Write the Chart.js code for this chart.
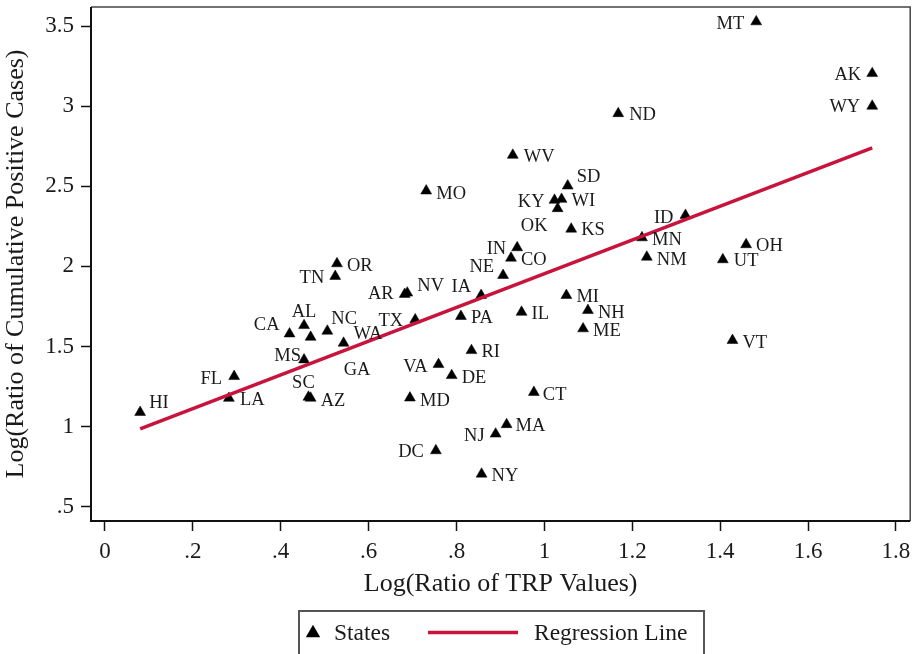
<!DOCTYPE html>
<html>
<head>
<meta charset="utf-8">
<script src="https://cdn.jsdelivr.net/npm/chart.js@4.4.0/dist/chart.umd.min.js"></script>
<style>
  html, body { margin: 0; padding: 0; background: #fff; }
</style>
</head>
<body>
<canvas id="chart" width="917" height="654"></canvas>
<script>
// state abbreviations with log ratios (x: TRP values, y: cumulative positive cases)
const states = ['HI','FL','LA','CA','AL','GA','NC','WA','MS','SC','AZ','TN','OR','AR','NV','TX','IA','MO',
  'VA','DE','MD','DC','RI','PA','NE','IN','CO','KY','WI','OK','SD','WV','KS','IL','MI','NH','ME','NJ','MA',
  'NY','CT','ND','MT','AK','WY','ID','MN','NM','UT','OH','VT'];
const trpRatio = [0.080, 0.294, 0.282, 0.420, 0.453, 0.468, 0.506, 0.543, 0.453, 0.463, 0.468, 0.524, 0.528, 0.682, 0.688, 0.706, 0.856, 0.731,
  0.759, 0.789, 0.694, 0.753, 0.834, 0.810, 0.906, 0.938, 0.924, 1.023, 1.039, 1.030, 1.053, 0.928, 1.061, 0.948, 1.050, 1.099, 1.088, 0.889, 0.914,
  0.857, 0.976, 1.168, 1.482, 1.746, 1.746, 1.321, 1.222, 1.233, 1.406, 1.459, 1.428];
const caseRatio = [1.089, 1.313, 1.177, 1.579, 1.631, 1.558, 1.596, 1.521, 1.417, 1.184, 1.178, 1.938, 2.017, 1.826, 1.834, 1.667, 1.819, 2.471,
  1.388, 1.319, 1.179, 0.850, 1.475, 1.688, 1.944, 2.117, 2.052, 2.413, 2.419, 2.361, 2.502, 2.694, 2.233, 1.714, 1.819, 1.725, 1.611, 0.954, 1.013,
  0.704, 1.214, 2.954, 3.527, 3.204, 3.000, 2.319, 2.179, 2.058, 2.042, 2.136, 1.538];

// fitted line end points
const fitX = [0.080, 1.746];
const fitY = [0.986, 2.739];

const xTicks = [0, 0.2, 0.4, 0.6, 0.8, 1, 1.2, 1.4, 1.6, 1.8];
const xTickLabels = ['0', '.2', '.4', '.6', '.8', '1', '1.2', '1.4', '1.6', '1.8'];
const yTicks = [0.5, 1, 1.5, 2, 2.5, 3, 3.5];
const yTickLabels = ['.5', '1', '1.5', '2', '2.5', '3', '3.5'];

// where each marker label sits: [text align, dx, dy] in pixels from the marker
const labelPlace = {
  HI: ['left', 9, -9],  FL: ['right', -12, 3], LA: ['left', 11, 2],  CA: ['right', -10, -9],
  AL: ['center', 0, -13], GA: ['left', 33, 33], NC: ['left', 4, -12], WA: ['left', 10, -9],
  MS: ['right', -3, -4], SC: ['center', -5, -14], AZ: ['left', 10, 3], TN: ['right', -11, 2],
  OR: ['left', 10, 3], AR: ['right', -11, 0], NV: ['left', 10, -7], TX: ['right', -12, 1],
  IA: ['right', -10, -8], MO: ['left', 10, 3], VA: ['right', -11, 3], DE: ['left', 10, 3],
  MD: ['left', 10, 3], DC: ['right', -12, 2], RI: ['left', 10, 2], PA: ['left', 10, 2],
  NE: ['right', -9, -8], IN: ['right', -11, 2], CO: ['left', 10, 2], KY: ['right', -10, 2],
  WI: ['left', 10, 2], OK: ['right', -10, 18], SD: ['left', 9, -9], WV: ['left', 11, 2],
  KS: ['left', 10, 1], IL: ['left', 10, 2], MI: ['left', 10, 2], NH: ['left', 10, 3],
  ME: ['left', 10, 2], NJ: ['right', -11, 2], MA: ['left', 9, 2], NY: ['left', 10, 2],
  CT: ['left', 9, 3], ND: ['left', 11, 2], MT: ['right', -12, 2], AK: ['right', -11, 2],
  WY: ['right', -12, 1], ID: ['right', -12, 3], MN: ['left', 10, 2], NM: ['left', 10, 3],
  UT: ['left', 11, 2], OH: ['left', 10, 2], VT: ['left', 10, 3]
};

const SERIF = '"Liberation Serif", "Times New Roman", serif';
const RED = '#c8143c';

const points = states.map((s, i) => ({ x: trpRatio[i], y: caseRatio[i], state: s }));
const fitLine = fitX.map((x, i) => ({ x: x, y: fitY[i] }));

// plot frame, state labels and the boxed legend underneath
const decorations = {
  id: 'decorations',
  afterDatasetsDraw(chart) {
    const ctx = chart.ctx;
    const meta = chart.getDatasetMeta(1);
    ctx.save();
    ctx.font = '18.5px ' + SERIF;
    ctx.fillStyle = '#1a1a1a';
    ctx.textBaseline = 'middle';
    meta.data.forEach((el, i) => {
      const p = labelPlace[states[i]];
      ctx.textAlign = p[0];
      ctx.fillText(states[i], el.x + p[1], el.y + p[2]);
    });
    ctx.restore();
  },
  afterDraw(chart) {
    const ctx = chart.ctx;
    const a = chart.chartArea;
    ctx.save();
    // top / right edges of the plot region
    ctx.strokeStyle = '#444';
    ctx.lineWidth = 1.5;
    ctx.beginPath();
    ctx.moveTo(a.left, a.top);
    ctx.lineTo(a.right, a.top);
    ctx.lineTo(a.right, a.bottom);
    ctx.stroke();
    // axis lines
    ctx.strokeStyle = '#111';
    ctx.lineWidth = 2;
    ctx.beginPath();
    ctx.moveTo(a.left, a.top);
    ctx.lineTo(a.left, a.bottom);
    ctx.lineTo(a.right, a.bottom);
    ctx.stroke();

    // legend box
    ctx.strokeStyle = '#555';
    ctx.lineWidth = 2;
    ctx.strokeRect(299, 611, 405, 60);
    ctx.fillStyle = '#000';
    ctx.strokeStyle = '#000';
    Chart.helpers.drawPoint(ctx, {
      pointStyle: 'triangle', radius: 6.3, borderWidth: 0.5
    }, 313, 633);
    ctx.font = '23.5px ' + SERIF;
    ctx.fillStyle = '#1a1a1a';
    ctx.textAlign = 'left';
    ctx.textBaseline = 'middle';
    ctx.fillText('States', 334, 634);
    ctx.strokeStyle = RED;
    ctx.lineWidth = 3.5;
    ctx.beginPath();
    ctx.moveTo(428, 632.5);
    ctx.lineTo(518, 632.5);
    ctx.stroke();
    ctx.fillText('Regression Line', 534, 634);
    ctx.restore();
  }
};

const ctx = document.getElementById('chart').getContext('2d');

new Chart(ctx, {
  type: 'scatter',
  data: {
    datasets: [
      {
        type: 'line',
        label: 'Regression Line',
        data: fitLine,
        borderColor: RED,
        borderWidth: 3.5,
        pointRadius: 0,
        fill: false,
        tension: 0,
        order: 0
      },
      {
        label: 'States',
        data: points,
        pointStyle: 'triangle',
        pointRadius: 6.3,
        pointHoverRadius: 6.3,
        backgroundColor: '#000',
        borderColor: '#000',
        borderWidth: 0.5,
        order: 1
      }
    ]
  },
  options: {
    responsive: false,
    animation: false,
    devicePixelRatio: 1,
    layout: { padding: { left: 0, top: 7, right: 5, bottom: 56.5 } },
    plugins: {
      legend: { display: false },
      tooltip: { enabled: false }
    },
    scales: {
      x: {
        type: 'linear',
        min: -0.0318,
        max: 1.8324,
        afterBuildTicks: scale => { scale.ticks = xTicks.map(v => ({ value: v })); },
        afterFit: scale => {
          scale.height = 76.5;
          scale.paddingLeft = 0;
          scale.paddingRight = 0;
        },
        border: { display: false },
        grid: { drawOnChartArea: false, drawTicks: true, tickLength: 10, tickColor: '#111', tickWidth: 1.5 },
        ticks: {
          autoSkip: false,
          maxRotation: 0,
          padding: 7,
          color: '#1a1a1a',
          font: { family: SERIF, size: 23, lineHeight: 1.2 },
          callback: v => xTickLabels[xTicks.indexOf(v)]
        },
        title: {
          display: true,
          text: 'Log(Ratio of TRP Values)',
          color: '#1a1a1a',
          font: { family: SERIF, size: 26, lineHeight: 1 },
          padding: { top: 0, bottom: 0 }
        }
      },
      y: {
        type: 'linear',
        min: 0.4107,
        max: 3.6186,
        afterBuildTicks: scale => { scale.ticks = yTicks.map(v => ({ value: v })); },
        afterFit: scale => {
          scale.width = 91;
          scale.paddingTop = 0;
          scale.paddingBottom = 0;
        },
        border: { display: false },
        grid: { drawOnChartArea: false, drawTicks: true, tickLength: 10, tickColor: '#111', tickWidth: 1.5 },
        ticks: {
          autoSkip: false,
          padding: 7,
          color: '#1a1a1a',
          font: { family: SERIF, size: 23, lineHeight: 1.2 },
          callback: v => yTickLabels[yTicks.indexOf(v)]
        },
        title: {
          display: true,
          text: 'Log(Ratio of Cumulative Positive Cases)',
          color: '#1a1a1a',
          font: { family: SERIF, size: 26, lineHeight: 1 },
          padding: { top: 3, bottom: 0 }
        }
      }
    }
  },
  plugins: [decorations]
});
</script>
</body>
</html>
